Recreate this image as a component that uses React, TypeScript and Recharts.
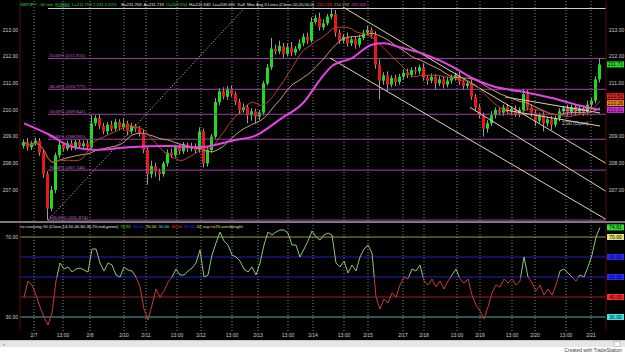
import React from "react";
import {
  ComposedChart,
  Bar,
  Line,
  XAxis,
  YAxis,
  ReferenceLine,
  ReferenceDot,
} from "recharts";

// hourly closes, GBPJPY 60 min
const closes = [
  208.8, 208.6, 208.75, 208.85, 208.4, 207.6, 206.3, 207.0, 208.3, 208.7,
  208.55, 208.75, 208.6, 208.8, 208.65, 208.75, 208.6, 209.5, 209.7, 209.4,
  209.2, 209.45, 209.3, 209.55, 209.35, 209.5, 209.2, 209.4, 209.3, 209.1,
  208.5, 207.6, 207.9, 207.7, 207.6, 208.0, 208.4, 208.3, 208.6, 208.45,
  208.7, 208.55, 208.65, 208.5, 209.2, 208.0, 208.5, 209.0, 210.3, 210.7,
  210.5, 210.8, 210.6, 210.3, 210.0, 210.1, 209.8, 209.95, 209.75, 209.9,
  211.0, 211.6, 212.3, 212.2, 212.4, 212.1, 212.35, 212.15, 212.3, 212.5,
  212.75, 212.6, 213.3, 213.45, 213.1, 213.25, 213.5, 213.6, 212.9, 212.6,
  212.75, 212.5, 212.65, 212.45, 212.7, 212.9, 213.0, 212.8, 211.7, 211.1,
  211.3, 210.95, 211.2, 211.05, 211.25, 211.4, 211.3, 211.5, 211.45, 211.6,
  211.2, 211.1, 211.25, 211.0, 211.15, 210.95, 211.1, 211.2, 211.3, 211.05,
  210.9, 211.0, 210.5, 210.1, 209.8, 209.3, 209.5, 209.8, 210.0, 209.9,
  210.1, 209.95, 210.05, 209.85, 210.0, 210.6, 210.1, 209.9, 209.6, 209.8,
  209.5, 209.65, 209.45, 209.7, 209.95, 210.05, 209.9, 210.1, 209.95, 210.05,
  209.9, 210.2, 210.35, 211.15, 211.709,
];
const firstOpen = 208.65;

const upperWick = [
  0.1, 0.15, 0.08, 0.12, 0.1, 0.12, 0.1, 0.15, 0.1, 0.12,
  0.08, 0.1, 0.12, 0.08, 0.1, 0.1, 0.12, 0.3, 0.1, 0.15,
  0.12, 0.1, 0.15, 0.12, 0.1, 0.18, 0.1, 0.12, 0.08, 0.1,
  0.15, 0.1, 0.2, 0.12, 0.1, 0.08, 0.12, 0.15, 0.1, 0.12,
  0.1, 0.08, 0.12, 0.1, 0.15, 0.1, 0.12, 0.1, 0.15, 0.12,
  0.15, 0.1, 0.12, 0.1, 0.12, 0.15, 0.1, 0.12, 0.1, 0.1,
  0.1, 0.12, 0.4, 0.15, 0.2, 0.12, 0.15, 0.2, 0.1, 0.15,
  0.12, 0.15, 0.18, 0.12, 0.2, 0.15, 0.1, 0.2, 0.15, 0.12,
  0.1, 0.15, 0.12, 0.1, 0.12, 0.1, 0.15, 0.1, 0.15, 0.2,
  0.12, 0.15, 0.1, 0.12, 0.1, 0.12, 0.15, 0.1, 0.12, 0.1,
  0.15, 0.1, 0.12, 0.1, 0.12, 0.1, 0.15, 0.12, 0.1, 0.12,
  0.1, 0.12, 0.15, 0.1, 0.12, 0.1, 0.12, 0.15, 0.1, 0.12,
  0.1, 0.12, 0.08, 0.12, 0.1, 0.2, 0.15, 0.1, 0.12, 0.1,
  0.12, 0.1, 0.12, 0.1, 0.12, 0.1, 0.15, 0.1, 0.12, 0.1,
  0.12, 0.15, 0.1, 0.12, 0.24,
];

const lowerWick = [
  0.1, 0.12, 0.1, 0.08, 0.12, 0.15, 0.43, 0.1, 0.12, 0.1,
  0.1, 0.08, 0.12, 0.1, 0.08, 0.12, 0.1, 0.08, 0.1, 0.12,
  0.1, 0.12, 0.1, 0.08, 0.12, 0.1, 0.15, 0.1, 0.12, 0.1,
  0.12, 0.4, 0.15, 0.2, 0.25, 0.1, 0.12, 0.1, 0.08, 0.12,
  0.1, 0.12, 0.1, 0.15, 0.1, 0.15, 0.12, 0.1, 0.08, 0.12,
  0.1, 0.12, 0.1, 0.12, 0.15, 0.1, 0.3, 0.2, 0.25, 0.12,
  0.1, 0.08, 0.1, 0.12, 0.1, 0.15, 0.1, 0.12, 0.1, 0.08,
  0.1, 0.12, 0.08, 0.1, 0.12, 0.1, 0.08, 0.1, 0.15, 0.12,
  0.1, 0.12, 0.1, 0.15, 0.1, 0.08, 0.1, 0.12, 0.15, 0.7,
  0.15, 0.25, 0.1, 0.15, 0.1, 0.12, 0.1, 0.08, 0.12, 0.1,
  0.1, 0.15, 0.1, 0.25, 0.1, 0.15, 0.1, 0.12, 0.1, 0.12,
  0.15, 0.1, 0.12, 0.15, 0.12, 0.3, 0.15, 0.1, 0.12, 0.1,
  0.12, 0.1, 0.15, 0.1, 0.12, 0.1, 0.12, 0.15, 0.2, 0.1,
  0.3, 0.12, 0.2, 0.1, 0.12, 0.1, 0.12, 0.1, 0.15, 0.1,
  0.12, 0.1, 0.12, 0.1, 0.12,
];

// 50 bar moving average, read at a few bars
const ma50Points: [number, number][] = [
  [0, 209.5], [6, 209.1], [12, 208.62], [18, 208.5], [26, 208.6],
  [36, 208.65], [44, 208.6], [52, 208.85], [58, 209.05], [64, 209.65],
  [70, 210.3], [74, 211.13], [77, 211.65], [82, 211.95], [87, 212.45],
  [90, 212.5], [94, 212.35], [99, 212.15], [104, 211.85], [108, 211.55],
  [112, 211.2], [117, 210.9], [124, 210.7], [132, 210.45], [138, 210.2],
  [144, 210.005],
];

const rsi = [
  40, 48, 46, 41, 35, 30, 26, 32, 48, 57,
  54, 55, 52.5, 54, 54.5, 53.5, 52.5, 64, 64, 57,
  53, 57, 56, 51, 50, 55, 53.5, 53, 50, 45,
  34, 28.5, 36, 44, 40, 43, 47.5, 50, 54, 51,
  51, 53, 54.5, 57, 63.5, 50, 51, 61, 67, 72.5,
  68, 66, 61, 60, 58, 54, 52.5, 55, 51, 57,
  66, 72.5, 71, 72.5, 73.5, 73.5, 72, 66, 66, 60,
  64, 68, 73, 70, 68.5, 71, 72, 71, 57, 55,
  58, 52, 56, 53, 60, 64, 66, 62, 40, 34,
  39, 37, 42, 40, 46, 50, 49, 54, 53, 56,
  48, 46, 49, 45, 48, 44, 48, 51, 54, 49,
  47, 49, 41, 36, 33, 29, 35, 42, 46, 45,
  49, 47, 49, 46, 48, 60, 50, 47, 43, 46,
  41, 44, 41, 46, 53, 54, 52, 50, 48, 51,
  50, 55, 61, 70, 74.81,
];

const fibLevels = [213.807, 211.935, 210.777, 209.841, 208.905, 207.746, 205.874];
const fibLabels = ["", "23.60% (211.935)", "38.20% (210.777)", "50.00% (209.841)", "61.80% (208.905)", "76.40% (207.746)", "100.00% (205.874)"];

const priceTicks = [207, 208, 209, 210, 211, 212, 213];
const rightPriceTicks = [207, 208, 209, 211, 212, 213]; // 210 sits under the value tags
const timeTicks = [2.5, 9.75, 16.5, 25, 30.5, 38.25, 44.25, 52, 58.5, 66, 72.25, 80, 86, 94.75, 100, 108.25, 114, 122, 127.75, 135.5, 141.75];
const timeLabels = ["2/7", "13:00", "2/8", "2/10", "2/11", "13:00", "2/12", "13:00", "2/13", "13:00", "2/14", "13:00", "2/15", "2/17", "2/18", "13:00", "2/19", "13:00", "2/20", "13:00", "2/21"];

// trend lines: [startBar, startPrice, endBar, endPrice]
const trendLines = [
  [79.75, 213.86, 145.5, 208.0],
  [76.5, 211.95, 145.5, 205.9],
  [111.5, 210.1, 145.5, 206.95],
  [120.25, 210.49, 144, 209.89],
  [120.25, 210.0, 144, 209.4],
];
const swingLine = [6, 205.874, 55, 213.807];

// status line pieces: [text, colour]
const header: [string, string][] = [
  ["GBPJPY - 60 min", "#30d030"],
  ["FOREX", "#30d030"],
  ["L=211.709  1.031  0.50%", "#30d030"],
  ["B=211.709", "#e8e8e8"],
  ["A=211.719", "#e8e8e8"],
  ["O=209.950", "#30d030"],
  ["Hi=211.945", "#e8e8e8"],
  ["Lo=209.691", "#e8e8e8"],
  ["V=8", "#e8e8e8"],
  ["Mov Avg 3 Lines (Close,10,20,50,0)", "#e8e8e8"],
  ["210.518", "#f03030"],
  ["210.258", "#d89a6a"],
  ["210.005", "#e040e0"],
];
const rsiHeader: [string, string][] = [
  ["rsi crossing 50 (Close,14,50,40,60,30,70,red,green)", "#e8e8e8"],
  ["74.81", "#30e030"],
  ["50.00", "#3030ff"],
  ["70.00", "#e4e27a"],
  ["30.00", "#44e6e6"],
  ["40.00", "#ff3030"],
  ["60.00", "#3030ff"],
  ["02 sup rsi70 overbought", "#e4e27a"],
];

const X_DOMAIN: [number, number] = [-1, 145.5];
const P_DOMAIN: [number, number] = [205.838, 214.088];
const R_DOMAIN: [number, number] = [23, 77.5];

const sma = (n: number) =>
  closes.map((_, i) => {
    const w = closes.slice(Math.max(0, i - n + 1), i + 1);
    return w.reduce((a, b) => a + b, 0) / w.length;
  });
const ma10 = sma(10);
const ma20 = sma(20);
const ma50Map = new Map(ma50Points);

const rows = closes.map((c, i) => {
  const o = i === 0 ? firstOpen : closes[i - 1];
  const high = Math.max(o, c) + upperWick[i];
  const low = Math.min(o, c) - lowerWick[i];
  return {
    i,
    open: o,
    close: c,
    high,
    low,
    range: [low, high],
    ma10: ma10[i],
    ma20: ma20[i],
    ma50: ma50Map.has(i) ? ma50Map.get(i) : null,
    rsi: rsi[i],
  };
});

const rsiMax = Math.max(...rsi);
const rsiMin = Math.min(...rsi);
const rsiSplit = (rsiMax - 50) / (rsiMax - rsiMin);

// lay a row of coloured words out left to right so that it fills `span` pixels
const ctx = typeof document !== "undefined" ? document.createElement("canvas").getContext("2d") : null;
const layoutRow = (items: [string, string][], left: number, span: number, gap: number) => {
  const widthAt = (t: string, fs: number) => {
    if (!ctx) return t.length * fs * 0.5;
    ctx.font = `${fs}px Arial`;
    return ctx.measureText(t).width;
  };
  const natural = items.reduce((s, [t]) => s + widthAt(t, 10), 0);
  const fs = (10 * (span - gap * (items.length - 1))) / natural;
  let x = left;
  return {
    fs,
    items: items.map(([t, c]) => {
      const w = widthAt(t, fs);
      const out = { t, c, x, w };
      x += w + gap;
      return out;
    }),
  };
};

const Candle = (props: any) => {
  const { x, width, payload } = props;
  let { y, height } = props;
  if (height < 0) {
    y += height;
    height = -height;
  }
  const { open, close, high, low } = payload;
  const span = high - low || 1;
  const py = (v: number) => y + ((high - v) / span) * height;
  const up = close >= open;
  const cx = x + width / 2;
  const top = py(Math.max(open, close));
  const bot = py(Math.min(open, close));
  return (
    <g>
      <line x1={cx} x2={cx} y1={y} y2={y + height} stroke="#9c9c9c" strokeWidth={1} />
      <rect x={x} y={top} width={width} height={Math.max(1, bot - top)} fill={up ? "#18e018" : "#e81818"} />
    </g>
  );
};

const tag = (text: string, bg: string) => (p: any) => (
  <g>
    <rect x={p.cx + 1} y={p.cy - 3} width={17} height={6} fill={bg} />
    <text x={p.cx + 9.5} y={p.cy + 1.8} fontSize={5} textAnchor="middle" fill="#000" fontFamily="Arial">
      {text}
    </text>
  </g>
);

const textLabel = (text: string) => (p: any) => (
  <text x={p.cx} y={p.cy + 2} fontSize={5} fill="#c8c8c8" fontFamily="Arial">
    {text}
  </text>
);

const axisTick = { fill: "#cfcfcf", fontSize: 5, fontFamily: "Arial" };
const frame = { stroke: "#5c0a0a" };

const App = () => {
  const top = layoutRow(header, 20, 347, 2);
  const sub = layoutRow(rsiHeader, 20, 223, 2);
  const forex = top.items[1];

  return (
    <div style={{ position: "relative", width: 625, height: 352, background: "#000", overflow: "hidden" }}>
      <style>{"body{margin:0;background:#fff}"}</style>

      {/* price panel */}
      <div style={{ position: "absolute", left: 0, top: 0 }}>
        <ComposedChart width={625} height={222} data={rows} margin={{ top: 1, right: 0, bottom: 1, left: 0 }}>
          <XAxis dataKey="i" type="number" domain={X_DOMAIN} allowDataOverflow hide />
          <YAxis
            yAxisId="l"
            orientation="left"
            width={20}
            domain={P_DOMAIN}
            allowDataOverflow
            ticks={priceTicks}
            tickFormatter={(v) => v.toFixed(2)}
            tick={axisTick}
            tickSize={0}
            tickMargin={2}
            axisLine={frame}
          />
          <YAxis
            yAxisId="r"
            orientation="right"
            width={19}
            domain={P_DOMAIN}
            allowDataOverflow
            ticks={rightPriceTicks}
            tickFormatter={(v) => v.toFixed(2)}
            tick={axisTick}
            tickSize={0}
            tickMargin={3}
            axisLine={frame}
          />
          {timeTicks.map((t) => (
            <ReferenceLine key={"v" + t} yAxisId="r" x={t} stroke="#8a8a8a" strokeDasharray="1 2" />
          ))}
          {fibLevels.map((lv, k) => (
            <ReferenceLine
              key={"f" + k}
              yAxisId="r"
              segment={[{ x: swingLine[0], y: lv }, { x: X_DOMAIN[1], y: lv }]}
              stroke={k === 0 ? "#d0d0d0" : "#a040a8"}
              strokeWidth={1}
              label={fibLabels[k] ? { value: fibLabels[k], position: "insideBottomLeft", offset: 1, fill: "#c87ac8", fontSize: 5 } : undefined}
            />
          ))}
          <ReferenceLine
            yAxisId="r"
            segment={[{ x: swingLine[0], y: swingLine[1] }, { x: swingLine[2], y: swingLine[3] }]}
            stroke="#d8d8d8"
            strokeDasharray="1 2"
          />
          {trendLines.map((t, k) => (
            <ReferenceLine
              key={"t" + k}
              yAxisId="r"
              segment={[{ x: t[0], y: t[1] }, { x: t[2], y: t[3] }]}
              stroke="#ddd3b4"
              strokeWidth={1}
            />
          ))}
          <Bar yAxisId="r" dataKey="range" barSize={3} shape={(p: any) => <Candle {...p} />} isAnimationActive={false} />
          <Line yAxisId="r" dataKey="ma20" stroke="#c89a72" strokeWidth={1} dot={false} type="linear" isAnimationActive={false} />
          <Line yAxisId="r" dataKey="ma10" stroke="#b8402a" strokeWidth={1} dot={false} type="linear" isAnimationActive={false} />
          <Line yAxisId="r" dataKey="ma50" stroke="#e444e4" strokeWidth={2} dot={false} type="monotone" connectNulls isAnimationActive={false} />
          <ReferenceDot yAxisId="r" x={134.5} y={210.03} r={0} shape={textLabel("2.00 (Open)")} />
          <ReferenceDot yAxisId="r" x={134.5} y={209.5} r={0} shape={textLabel("2.00 (Open)")} />
          <ReferenceDot yAxisId="r" x={X_DOMAIN[1]} y={211.709} r={0} shape={tag("211.71", "#22e022")} />
          <ReferenceDot yAxisId="r" x={X_DOMAIN[1]} y={210.518} r={0} shape={tag("210.52", "#f02020")} />
          <ReferenceDot yAxisId="r" x={X_DOMAIN[1]} y={210.258} r={0} shape={tag("210.26", "#e88a2a")} />
          <ReferenceDot yAxisId="r" x={X_DOMAIN[1]} y={210.005} r={0} shape={tag("210.01", "#e030e0")} />
        </ComposedChart>
      </div>

      {/* rsi panel */}
      <div style={{ position: "absolute", left: 0, top: 222 }}>
        <ComposedChart width={625} height={118} data={rows} margin={{ top: 0, right: 0, bottom: 0, left: 0 }}>
          <defs>
            <linearGradient id="rsiGrad" x1="0" y1="0" x2="0" y2="1">
              <stop offset={rsiSplit} stopColor="#8cc870" />
              <stop offset={rsiSplit} stopColor="#c83a3a" />
            </linearGradient>
          </defs>
          <XAxis
            dataKey="i"
            type="number"
            domain={X_DOMAIN}
            allowDataOverflow
            ticks={timeTicks}
            interval={0}
            height={9}
            tickFormatter={(v) => timeLabels[timeTicks.indexOf(v)] ?? ""}
            tick={axisTick}
            tickSize={0}
            tickMargin={2}
            axisLine={false}
          />
          <YAxis
            yAxisId="l"
            orientation="left"
            width={20}
            domain={R_DOMAIN}
            allowDataOverflow
            ticks={[30, 70]}
            tickFormatter={(v) => v.toFixed(2)}
            tick={axisTick}
            tickSize={0}
            tickMargin={2}
            axisLine={frame}
          />
          <YAxis yAxisId="r" orientation="right" width={19} domain={R_DOMAIN} allowDataOverflow tick={false} tickSize={0} axisLine={frame} />
          {timeTicks.map((t) => (
            <ReferenceLine key={"rv" + t} yAxisId="r" x={t} stroke="#8a8a8a" strokeDasharray="1 2" />
          ))}
          <ReferenceLine yAxisId="r" y={70} stroke="#9a9a48" />
          <ReferenceLine yAxisId="r" y={60} stroke="#2020b8" />
          <ReferenceLine yAxisId="r" y={50} stroke="#2020b8" />
          <ReferenceLine yAxisId="r" y={40} stroke="#a02020" />
          <ReferenceLine yAxisId="r" y={30} stroke="#5aa8a8" />
          <Line yAxisId="r" dataKey="rsi" stroke="url(#rsiGrad)" strokeWidth={1} dot={false} type="linear" isAnimationActive={false} />
          <ReferenceDot yAxisId="r" x={X_DOMAIN[1]} y={74.81} r={0} shape={tag("74.81", "#30e030")} />
          <ReferenceDot yAxisId="r" x={X_DOMAIN[1]} y={70} r={0} shape={tag("70.00", "#e4e27a")} />
          <ReferenceDot yAxisId="r" x={X_DOMAIN[1]} y={60} r={0} shape={tag("60.00", "#2a2aff")} />
          <ReferenceDot yAxisId="r" x={X_DOMAIN[1]} y={50} r={0} shape={tag("50.00", "#2a2aff")} />
          <ReferenceDot yAxisId="r" x={X_DOMAIN[1]} y={40} r={0} shape={tag("40.00", "#ff2a2a")} />
          <ReferenceDot yAxisId="r" x={X_DOMAIN[1]} y={30} r={0} shape={tag("30.00", "#44e6e6")} />
        </ComposedChart>
      </div>

      <div style={{ position: "absolute", left: 0, top: 221, width: 625, height: 1.5, background: "#7a7a7a" }} />
      <div style={{ position: "absolute", left: 0, top: 340, width: 625, height: 7, background: "#e6e6e6", borderTop: "1px solid #c8c8c8" }} />
      <div style={{ position: "absolute", left: 0, top: 347, width: 625, height: 5, background: "#fff" }} />

      <svg width={625} height={352} style={{ position: "absolute", left: 0, top: 0, pointerEvents: "none" }} fontFamily="Arial">
        {top.items.map((s) => (
          <text key={"h" + s.x} x={s.x} y={5.5} fontSize={top.fs} fill={s.c}>
            {s.t}
          </text>
        ))}
        <line x1={forex.x} x2={forex.x + forex.w} y1={6.4} y2={6.4} stroke="#30d030" strokeWidth={0.5} />
        {sub.items.map((s) => (
          <text key={"r" + s.x} x={s.x} y={227.5} fontSize={sub.fs} fill={s.c}>
            {s.t}
          </text>
        ))}
        <text x={3} y={346} fontSize={6} fill="#606060">‹</text>
        <rect x={614} y={341.5} width={6} height={5} fill="#f8f8f8" stroke="#a0a0a0" strokeWidth={0.5} />
        <text x={622} y={351.5} fontSize={5} textAnchor="end" fill="#404040">Created with TradeStation</text>
      </svg>
    </div>
  );
};

export default App;
